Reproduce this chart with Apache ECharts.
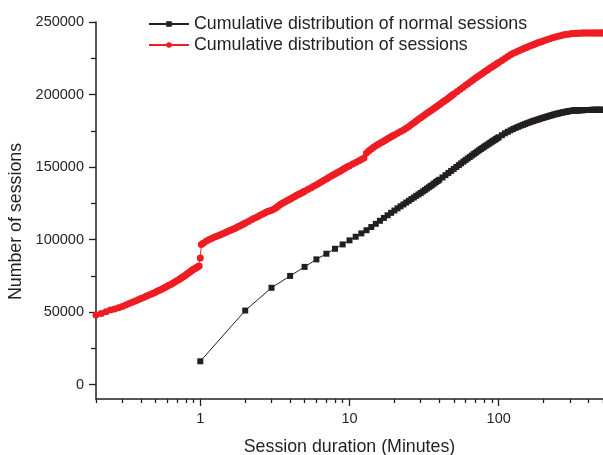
<!DOCTYPE html>
<html><head><meta charset="utf-8">
<script src="https://cdn.jsdelivr.net/npm/echarts@6/dist/echarts.min.js"></script>
<style>html,body{margin:0;padding:0;background:#fff}#c{width:603px;height:455px}</style>
</head><body><div id="c"></div>
<script>
const seriesNames = ['Cumulative distribution of normal sessions', 'Cumulative distribution of sessions'];

const redMinutes = [
0.2, 0.2167, 0.2333, 0.25, 0.2667, 0.2833, 0.3, 0.3167, 0.3333, 0.35,
0.3667, 0.3833, 0.4, 0.4167, 0.4333, 0.45, 0.4667, 0.4833, 0.5, 0.5167,
0.5333, 0.55, 0.5667, 0.5833, 0.6, 0.6167, 0.6333, 0.65, 0.6667, 0.6833,
0.7, 0.7167, 0.7333, 0.75, 0.7667, 0.7833, 0.8, 0.8167, 0.8333, 0.85,
0.8667, 0.8833, 0.9, 0.9167, 0.9333, 0.95, 0.9667, 0.9833, 1, 1.0167,
1.05, 1.1, 1.15, 1.2, 1.25, 1.3, 1.35, 1.4, 1.45, 1.5, 1.55, 1.6, 1.65, 1.7, 1.75, 1.8, 1.85, 1.9, 1.95, 2,
2.1, 2.2, 2.3, 2.4, 2.5, 2.6, 2.7, 2.8, 2.9, 3, 3.1, 3.2, 3.3, 3.4, 3.5, 3.6, 3.7, 3.8, 3.9, 4,
4.1, 4.2, 4.3, 4.4, 4.5, 4.6, 4.7, 4.8, 4.9, 5,
5.25, 5.5, 5.75, 6, 6.25, 6.5, 6.75, 7, 7.25, 7.5, 7.75, 8, 8.25, 8.5, 8.75, 9, 9.25, 9.5, 9.75, 10,
10.5, 11, 11.5, 12, 12.5, 13, 13.5, 14, 14.5, 15, 15.5, 16, 16.5, 17, 17.5, 18, 18.5, 19, 19.5, 20,
21, 22, 23, 24, 25, 26, 27, 28, 29, 30, 31, 32, 33, 34, 35, 36, 37, 38, 39, 40,
41, 42, 43, 44, 45, 46, 47, 48, 49, 50,
52.5, 55, 57.5, 60, 62.5, 65, 67.5, 70, 72.5, 75, 77.5, 80, 82.5, 85, 87.5, 90, 92.5, 95, 97.5, 100,
105, 110, 115, 120, 125, 130, 135, 140, 145, 150, 155, 160, 165, 170, 175, 180, 185, 190, 195, 200,
210, 220, 230, 240, 250, 260, 270, 280, 290, 300, 310, 320, 330, 340, 350, 360, 370, 380, 390, 400,
410, 420, 430, 440, 450, 460, 470, 480, 490, 500
];
const redSessions = [
48000, 49000, 50100, 51300, 52100, 53000, 53800, 54800, 55800, 56700,
57600, 58500, 59300, 60000, 60800, 61500, 62200, 63000, 63700, 64400,
65000, 65700, 66400, 67000, 67700, 68400, 69000, 69700, 70400, 71000,
71700, 72300, 73000, 73600, 74300, 74900, 75600, 76300, 76900, 77600,
78200, 78800, 79400, 79900, 80400, 80900, 81300, 81700, 87300, 96500,
97600, 99000, 100000, 100900, 101700, 102400, 103100, 103800, 104400, 105100, 105800, 106400, 107000, 107600, 108200, 108900, 109500, 110100, 110700, 111300,
112500, 113600, 114600, 115600, 116500, 117400, 118300, 119100, 119700, 120200, 120900, 121800, 122800, 123800, 124700, 125400, 126000, 126700, 127300, 127900,
128500, 129100, 129700, 130300, 130800, 131300, 131800, 132300, 132800, 133300,
134500, 135600, 136700, 137800, 138800, 139800, 140800, 141800, 142700, 143600, 144400, 145200, 146000, 146800, 147500, 148200, 148900, 149600, 150300, 150900,
152000, 153100, 154100, 155100, 156200, 159600, 161200, 162500, 163600, 164600, 165500, 166300, 167100, 167900, 168700, 169400, 170100, 170800, 171500, 172100,
173300, 174500, 175600, 176800, 178000, 179300, 180500, 181700, 182900, 184000, 185000, 186000, 187000, 187900, 188800, 189700, 190500, 191400, 192200, 193000,
193800, 194600, 195400, 196100, 196800, 197500, 198200, 198900, 199600, 200300,
201900, 203400, 204900, 206300, 207600, 208900, 210100, 211300, 212400, 213500, 214500, 215500, 216400, 217300, 218200, 219000, 219800, 220600, 221400, 222100,
223500, 224900, 226200, 227400, 228400, 229200, 230000, 230700, 231400, 232000, 232600, 233200, 233800, 234300, 234800, 235300, 235800, 236200, 236600, 237000,
237800, 238500, 239100, 239700, 240200, 240600, 241000, 241300, 241600, 241800, 242000, 242100, 242200, 242300, 242300, 242400, 242400, 242400, 242400, 242400,
242400, 242500, 242500, 242500, 242500, 242500, 242500, 242500, 242500, 242500
];

const normalMinutes = [
1, 2, 3, 4, 5, 6, 7, 8, 9, 10, 11, 12, 13, 14, 15, 16, 17, 18, 19, 20,
21, 22, 23, 24, 25, 26, 27, 28, 29, 30, 31, 32, 33, 34, 35, 36, 37, 38, 39, 40,
42, 44, 46, 48, 50, 52, 54, 56, 58, 60, 62, 64, 66, 68, 70, 72, 74, 76, 78, 80,
82, 84, 86, 88, 90, 92, 94, 96, 98, 100,
105, 110, 115, 120, 125, 130, 135, 140, 145, 150, 155, 160, 165, 170, 175, 180, 185, 190, 195, 200,
205, 210, 215, 220, 225, 230, 235, 240, 245, 250, 255, 260, 265, 270, 275, 280, 285, 290, 295, 300,
305, 310, 315, 320, 325, 330, 335, 340, 345, 350, 355, 360, 365, 370, 375, 380, 385, 390, 395, 400,
405, 410, 415, 420, 425, 430, 435, 440, 445, 450, 455, 460, 465, 470, 475, 480, 485, 490, 495, 500
];
const normalSessions = [
16000, 51000, 66700, 74900, 81100, 86300, 90200, 93600, 96600, 99400, 101900, 104200, 106400, 108600, 110800, 112900, 114900, 116700, 118400, 120000,
121500, 122900, 124200, 125500, 126700, 127900, 129000, 130100, 131100, 132100, 133100, 134100, 135100, 136000, 136900, 137800, 138700, 139600, 140400, 141200,
142800, 144400, 145900, 147300, 148700, 150000, 151300, 152500, 153700, 154800, 155900, 156900, 157900, 158900, 159800, 160700, 161600, 162400, 163200, 164000,
164700, 165400, 166100, 166800, 167500, 168100, 168700, 169300, 169900, 170500,
171900, 173200, 174300, 175300, 176200, 177000, 177700, 178400, 179000, 179600, 180200, 180700, 181200, 181700, 182100, 182500, 182900, 183300, 183700, 184000,
184400, 184700, 185000, 185300, 185600, 185900, 186200, 186400, 186700, 186900, 187100, 187300, 187500, 187700, 187900, 188000, 188200, 188300, 188500, 188600,
188700, 188800, 188900, 188900, 189000, 189000, 189100, 189100, 189100, 189200, 189200, 189200, 189200, 189200, 189300, 189300, 189300, 189300, 189300, 189300,
189300, 189300, 189300, 189400, 189400, 189400, 189400, 189400, 189400, 189400, 189400, 189400, 189400, 189400, 189400, 189400, 189400, 189400, 189400, 189400
];

const xMajorTicks = [1, 10, 100];
const xMinorTicks = [0.2, 0.3, 0.4, 0.5, 0.6, 0.7, 0.8, 0.9, 2, 3, 4, 5, 6, 7, 8, 9, 20, 30, 40, 50, 60, 70, 80, 90, 200, 300, 400, 500];
const yMajorTicks = [0, 50000, 100000, 150000, 200000, 250000];
const yMinorTicks = [25000, 75000, 125000, 175000, 225000];

const FONT = "'Liberation Sans', Arial, Helvetica, sans-serif";
const INK = '#231f20';
const RED = '#ee1d23';

const chart = echarts.init(document.getElementById('c'), null, {renderer: 'canvas'});
const tickStyle = {color: INK, width: 1.3};
chart.setOption({
  animation: false,
  backgroundColor: '#ffffff',
  textStyle: {fontFamily: FONT},
  grid: {left: 96, right: 0, top: 22, bottom: 56, containLabel: false, outerBoundsMode: 'none'},
  legend: {
    orient: 'vertical', left: 148, top: 15, padding: 0, itemWidth: 40, itemHeight: 7, itemGap: 3,
    selectedMode: false, data: seriesNames,
    textStyle: {fontSize: 17.8, color: INK, fontFamily: FONT}
  },
  xAxis: [
    {
      type: 'log', logBase: 10, min: 0.2, max: 500, position: 'bottom',
      name: 'Session duration (Minutes)', nameLocation: 'middle', nameGap: 39,
      nameTextStyle: {fontSize: 17.8, color: INK, fontFamily: FONT},
      axisLine: {show: true, onZero: false, lineStyle: {color: INK, width: 1.5}},
      axisTick: {show: true, inside: false, length: 7, customValues: xMajorTicks, lineStyle: tickStyle},
      axisLabel: {show: true, customValues: xMajorTicks, fontSize: 14.5, color: INK, margin: 12, fontFamily: FONT, formatter: v => String(v)},
      splitLine: {show: false}, minorTick: {show: false}
    },
    {
      type: 'log', logBase: 10, min: 0.2, max: 500, position: 'bottom',
      axisLine: {show: false, onZero: false},
      axisTick: {show: true, inside: false, length: 4, customValues: xMinorTicks, lineStyle: tickStyle},
      axisLabel: {show: false}, splitLine: {show: false}
    }
  ],
  yAxis: [
    {
      type: 'value', min: -10000, max: 250000, position: 'left',
      name: 'Number of sessions', nameLocation: 'middle', nameGap: 70, nameRotate: 90,
      nameTextStyle: {fontSize: 17.8, color: INK, fontFamily: FONT, padding: [0, 22, 0, 0]},
      axisLine: {show: true, onZero: false, lineStyle: {color: INK, width: 1.5}},
      axisTick: {show: true, inside: false, length: 7, customValues: yMajorTicks, lineStyle: tickStyle},
      axisLabel: {show: true, customValues: yMajorTicks, fontSize: 14.5, color: INK, margin: 12, fontFamily: FONT, formatter: v => String(v)},
      splitLine: {show: false}
    },
    {
      type: 'value', min: -10000, max: 250000, position: 'left',
      axisLine: {show: false, onZero: false},
      axisTick: {show: true, inside: false, length: 5, customValues: yMinorTicks, lineStyle: tickStyle},
      axisLabel: {show: false}, splitLine: {show: false}
    }
  ],
  series: [
    {
      name: seriesNames[0], type: 'line', xAxisIndex: 0, yAxisIndex: 0,
      data: normalMinutes.map((m, i) => [m, normalSessions[i]]),
      symbol: 'rect', symbolSize: 6, showSymbol: true, showAllSymbol: true,
      itemStyle: {color: INK}, lineStyle: {color: INK, width: 1},
      emphasis: {disabled: true}
    },
    {
      name: seriesNames[1], type: 'line', xAxisIndex: 0, yAxisIndex: 0,
      data: redMinutes.map((m, i) => [m, redSessions[i]]),
      symbol: 'circle', symbolSize: 7, showSymbol: true, showAllSymbol: true,
      itemStyle: {color: RED}, lineStyle: {color: RED, width: 1},
      emphasis: {disabled: true}
    }
  ]
});
</script>
</body></html>
